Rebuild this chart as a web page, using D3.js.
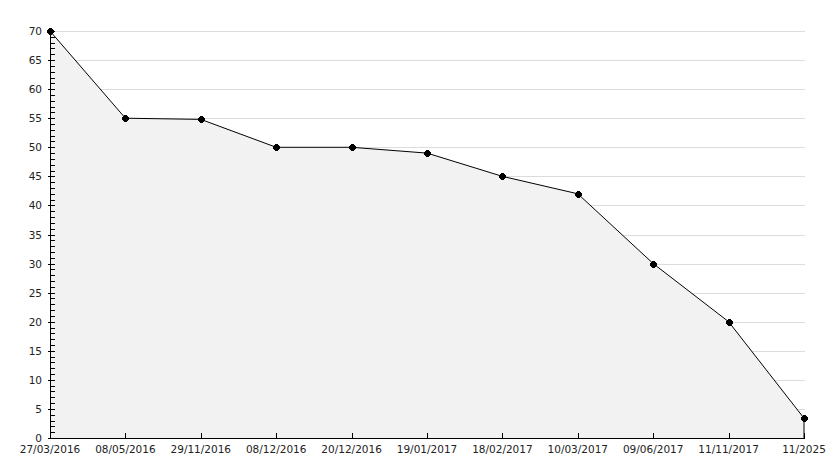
<!DOCTYPE html>
<html><head><meta charset="utf-8">
<script src="https://cdn.jsdelivr.net/npm/d3@7"></script>
<style>body{margin:0;background:#fff;} svg{display:block;}</style>
</head><body>
<script>
const categories = ["27/03/2016","08/05/2016","29/11/2016","08/12/2016","20/12/2016","19/01/2017","18/02/2017","10/03/2017","09/06/2017","11/11/2017","11/2025"];
const values = [70, 55, 54.8, 50, 50, 49, 45, 42, 30, 20, 3.4];
const yTicks = [0,5,10,15,20,25,30,35,40,45,50,55,60,65,70];

const W = 834, H = 468;
const pLeft = 50, pRight = 804, pTop = 31, pBottom = 438;
const svg = d3.select("body").append("svg").attr("width", W).attr("height", H);

const x = d3.scalePoint().domain(categories).range([pLeft, pRight]);
const y = d3.scaleLinear().domain([0, 70]).range([pBottom, pTop]);

const font = "DejaVu Sans, Verdana, sans-serif";

// gridlines
svg.append("g").attr("shape-rendering", "crispEdges").selectAll("line").data(yTicks.filter(d => d > 0)).join("line")
  .attr("x1", pLeft).attr("x2", pRight + 1)
  .attr("y1", d => Math.round(y(d)) + 0.5).attr("y2", d => Math.round(y(d)) + 0.5)
  .attr("stroke", "#dcdcdc").attr("stroke-width", 1);

// area
const pts = categories.map((c, i) => [x(c), y(values[i])]);
const area = d3.area().x(d => d[0]).y0(pBottom).y1(d => d[1]);
svg.append("path").datum(pts).attr("d", area).attr("fill", "#f2f2f2");

// line (with right vertical edge)
const linePts = pts.concat([[x(categories[categories.length-1]), pBottom]]);
svg.append("path").datum(linePts).attr("d", d3.line())
  .attr("fill", "none").attr("stroke", "#000").attr("stroke-width", 1);

// y axis
const ya = svg.append("g").attr("shape-rendering", "crispEdges");
ya.append("line").attr("x1", pLeft + 0.5).attr("x2", pLeft + 0.5).attr("y1", pTop - 1).attr("y2", pBottom + 0.5)
  .attr("stroke", "#000");
const minor = d3.range(0, 71, 1);
ya.selectAll("line.m").data(minor).join("line").attr("class", "m")
  .attr("x1", d => d % 5 === 0 ? pLeft - 2 : pLeft)
  .attr("x2", pLeft + 5)
  .attr("y1", d => Math.round(y(d)) + 0.5).attr("y2", d => Math.round(y(d)) + 0.5)
  .attr("stroke", "#000");
ya.selectAll("text").data(yTicks).join("text")
  .attr("x", pLeft - 8).attr("y", d => y(d) + 4)
  .attr("text-anchor", "end").attr("font-family", font).attr("font-size", "10.5px").attr("fill", "#222")
  .text(d => d);

// x axis
const xa = svg.append("g").attr("shape-rendering", "crispEdges");
xa.append("line").attr("x1", pLeft).attr("x2", pRight + 1).attr("y1", pBottom + 0.5).attr("y2", pBottom + 0.5)
  .attr("stroke", "#000");
xa.selectAll("line.t").data(categories).join("line").attr("class", "t")
  .attr("x1", d => Math.round(x(d)) + 0.5).attr("x2", d => Math.round(x(d)) + 0.5)
  .attr("y1", pBottom - 5).attr("y2", pBottom)
  .attr("stroke", "#000");
xa.selectAll("text").data(categories).join("text")
  .attr("x", d => x(d)).attr("y", pBottom + 15)
  .attr("text-anchor", "middle").attr("font-family", font).attr("font-size", "10.5px").attr("fill", "#222")
  .text(d => d);

// markers: pixel blob (cross + square)
const mk = svg.append("g").attr("shape-rendering", "crispEdges").attr("fill", "#000");
const parts = [[-3, -1, 7, 3], [-1, -3, 3, 7], [-2, -2, 5, 5]];
pts.forEach(p => {
  const cx = Math.round(p[0]), cy = Math.round(p[1]);
  parts.forEach(r => mk.append("rect").attr("x", cx + r[0]).attr("y", cy + r[1]).attr("width", r[2]).attr("height", r[3]));
});
</script>
</body></html>
